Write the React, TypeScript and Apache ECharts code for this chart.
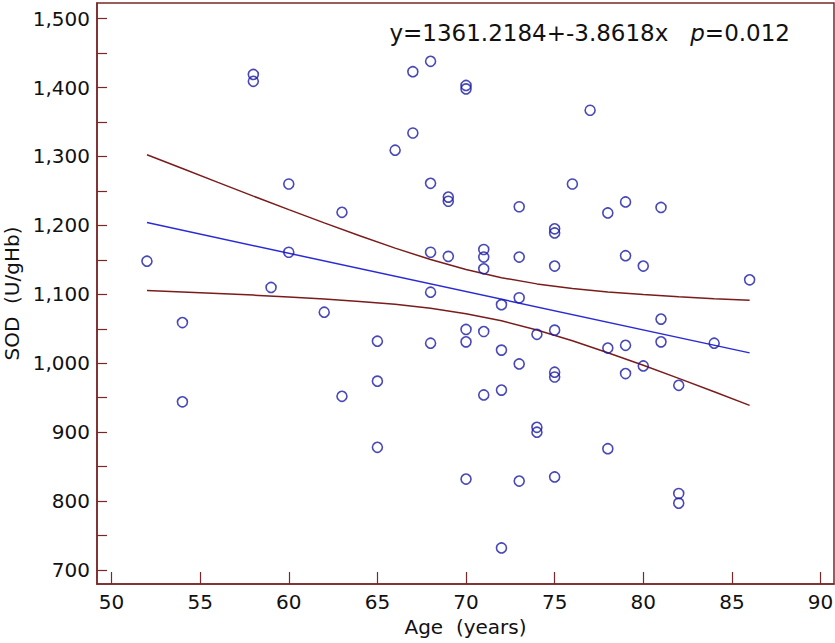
import React, { useEffect, useRef } from "react";
import * as echarts from "echarts";

// Scatter data: Age (years) and SOD (U/gHb)
const ages = [52,54,54,58,58,59,60,60,62,63,63,65,65,65,66,67,67,68,68,68,68,68,69,69,69,70,70,70,70,70,71,71,71,71,71,72,72,72,72,73,73,73,73,73,74,74,74,75,75,75,75,75,75,75,76,77,78,78,78,79,79,79,79,80,80,81,81,81,82,82,82,84,86];
const sod = [1148,1059,944,1419,1409,1110,1260,1161,1074,1219,952,1032,974,878,1309,1423,1334,1438,1261,1161,1103,1029,1241,1235,1155,1403,1398,1049,1031,832,1165,1154,1137,1046,954,1085,1019,961,732,1227,1154,1095,999,829,1042,907,900,1195,1189,1141,1048,987,980,835,1260,1367,1218,1022,876,1234,1156,1026,985,1141,996,1226,1064,1031,968,811,797,1029,1121];

// Regression line (as drawn) and its confidence band
const fitAges = [52, 86];
const fitValues = [1204, 1015];
const bandAges = [52,54,56,58,60,62,64,66,68,70,72,74,76,78,80,82,84,86];
const bandUpper = [1302.5,1282.4,1262.3,1242.4,1222.8,1203.6,1184.9,1167.0,1150.4,1135.9,1124.1,1115.1,1108.5,1103.5,1099.6,1096.4,1093.6,1091.2];
const bandLower = [1105.5,1103.4,1101.3,1098.8,1096.2,1093.2,1089.7,1085.4,1079.6,1071.9,1061.5,1048.3,1032.7,1015.3,997.0,978.0,958.6,938.8];

// Ticks
const xTicks = [50,55,60,65,70,75,80,85,90];
const yLabelTicks = [700,800,900,1000,1100,1200,1300,1400,1500];
const yTicks = [700,750,800,850,900,950,1000,1050,1100,1150,1200,1250,1300,1350,1400,1450,1500];

const annotation = { eq: "y=1361.2184+-3.8618x   ", p: "p", pval: "=0.012" };

const FRAME = "#7a2727";
const FONT = "DejaVu Sans";

export default function App() {
  const ref = useRef<HTMLDivElement>(null);
  useEffect(() => {
    if (!ref.current) return;
    const chart = echarts.init(ref.current, undefined, { renderer: "svg" });
    chart.setOption({
      animation: false,
      backgroundColor: "#ffffff",
      textStyle: { fontFamily: FONT },
      grid: {
        left: 97, right: 1, top: 3, bottom: 59,
        outerBoundsMode: "none",
        containLabel: false,
        show: true, borderColor: FRAME, borderWidth: 1.5, backgroundColor: "transparent",
      },
      xAxis: {
        type: "value",
        min: 49.18, max: 90.76,
        name: "Age  (years)",
        nameLocation: "middle",
        nameGap: 28,
        nameTextStyle: { fontFamily: FONT, fontSize: 20, color: "#111" },
        axisLine: { show: true, lineStyle: { color: FRAME, width: 1.5 } },
        axisTick: { show: true, inside: true, length: 12, lineStyle: { color: FRAME, width: 1.2 }, customValues: xTicks },
        axisLabel: { fontFamily: FONT, fontSize: 20, color: "#111", margin: 8, customValues: xTicks },
        splitLine: { show: false },
      },
      yAxis: {
        type: "value",
        min: 679.7, max: 1522.6,
        name: "SOD  (U/gHb)",
        nameLocation: "middle",
        nameGap: 75,
        nameTextStyle: { fontFamily: FONT, fontSize: 20, color: "#111" },
        axisLine: { show: true, lineStyle: { color: FRAME, width: 1.5 } },
        axisTick: { show: true, inside: true, length: 10, lineStyle: { color: FRAME, width: 1.2 }, customValues: yTicks },
        axisLabel: {
          fontFamily: FONT, fontSize: 20, color: "#111", margin: 7, customValues: yLabelTicks,
          formatter: (v: number) => v.toLocaleString("en-US"),
        },
        splitLine: { show: false },
      },
      series: [
        {
          type: "line",
          data: bandAges.map((a, i) => [a, bandUpper[i]]),
          showSymbol: false,
          lineStyle: { color: "#7a1c1c", width: 1.5 },
          z: 2,
        },
        {
          type: "line",
          data: bandAges.map((a, i) => [a, bandLower[i]]),
          showSymbol: false,
          lineStyle: { color: "#7a1c1c", width: 1.5 },
          z: 2,
        },
        {
          type: "line",
          data: fitAges.map((a, i) => [a, fitValues[i]]),
          showSymbol: false,
          lineStyle: { color: "#2b2bd6", width: 1.5 },
          z: 3,
        },
        {
          type: "scatter",
          data: ages.map((a, i) => [a, sod[i]]),
          symbol: "circle",
          symbolSize: 10,
          itemStyle: { color: "transparent", borderColor: "#1a1aa4", borderWidth: 1.6 },
          z: 4,
        },
      ],
      graphic: [
        {
          type: "text",
          right: 45,
          top: 21,
          style: {
            text: `{a|${annotation.eq}}{b|${annotation.p}}{a|${annotation.pval}}`,
            rich: {
              a: { fontFamily: FONT, fontSize: 23, fill: "#111" },
              b: { fontFamily: FONT, fontSize: 23, fontStyle: "italic", fill: "#111" },
            },
          },
        },
      ],
    });
    return () => chart.dispose();
  }, []);
  return (
    <div
      ref={ref}
      style={{ position: "fixed", left: 0, top: 0, width: 835, height: 643 }}
    />
  );
}
